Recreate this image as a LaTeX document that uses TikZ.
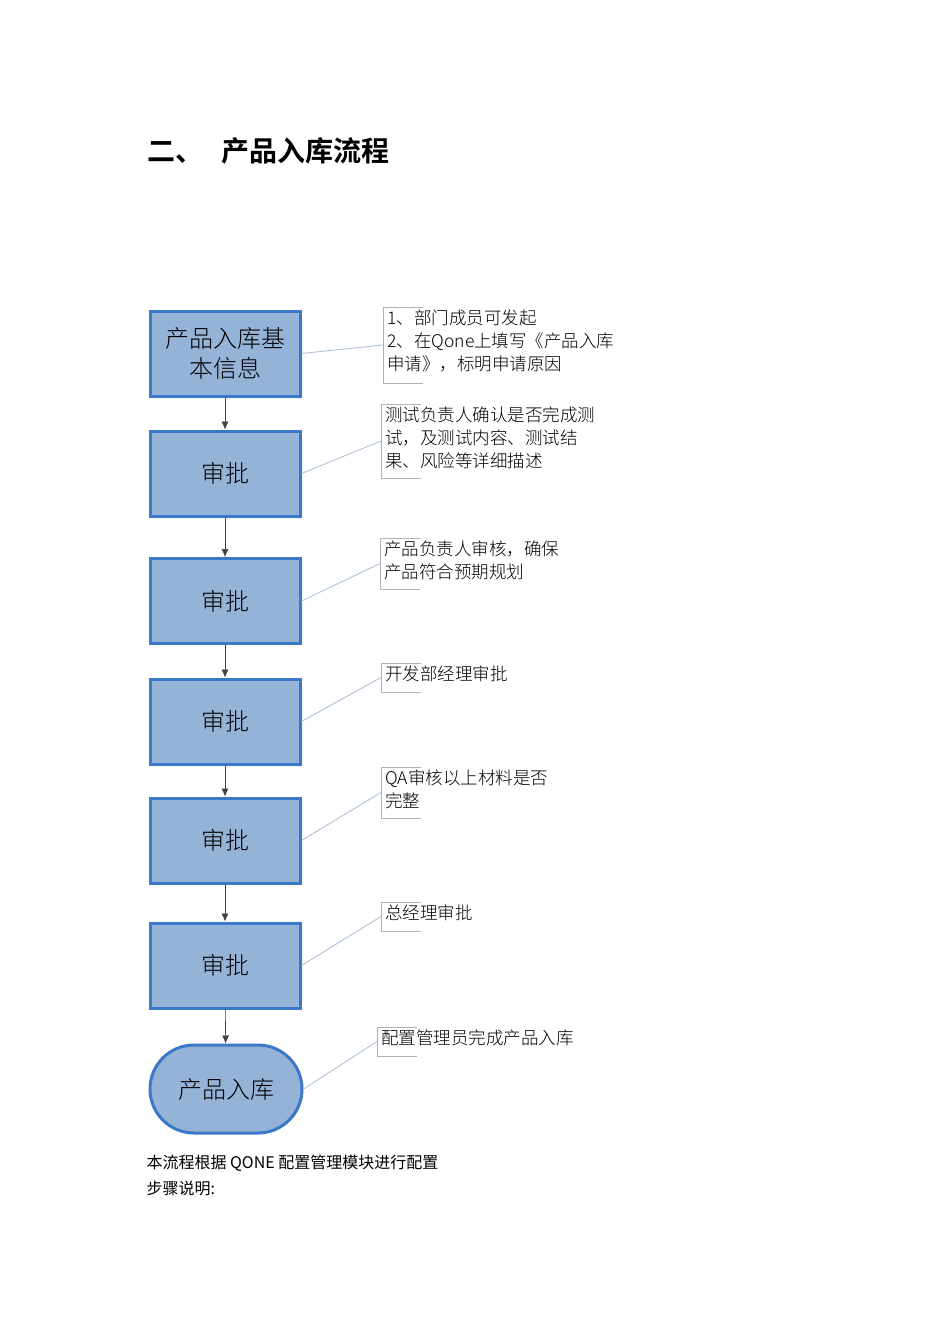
\documentclass[tikz,border=0pt]{standalone}
\usepackage{fontspec}
\setmainfont{Noto Sans CJK SC}
\newfontfamily\cjklight{Noto Sans CJK SC Light}
\newfontfamily\cjkbold{Noto Sans CJK SC Bold}
\usetikzlibrary{arrows.meta,shapes.misc}
\definecolor{boxfill}{HTML}{95B3D7}
\definecolor{boxline}{HTML}{3C78C8}
\definecolor{lnk}{HTML}{A9BCD6}
\tikzset{
 stepbox/.style={draw=boxline,line width=3pt,fill=boxfill,minimum width=150pt,minimum height=85pt,font=\cjklight\fontsize{24}{30}\selectfont,align=center,inner sep=0},
 endbox/.style={stepbox,rounded rectangle},
 flow/.style={-{Latex[length=8pt,width=7pt]},line width=0.6pt,black!75},
 note/.style={anchor=north west,font=\cjklight\fontsize{17.5}{23}\selectfont,align=left,inner sep=0},
 brk/.style={draw=black!30,line width=0.8pt},
 lk/.style={draw=lnk,line width=0.8pt}
}
\begin{document}
\begin{tikzpicture}[x=1pt,y=-1pt]
\useasboundingbox[fill=white] (0,0) rectangle (950,1344);
\node[anchor=west,font=\cjkbold\fontsize{28}{32}\selectfont] (title) at (144,151) {二、\hspace{18pt}产品入库流程};
\node[stepbox] (b1) at (225,353.5) {产品入库基\\本信息};
\node[stepbox] (b2) at (225,473.5) {审批};
\node[stepbox] (b3) at (225,601) {审批};
\node[stepbox] (b4) at (225,721.5) {审批};
\node[stepbox] (b5) at (225,840.5) {审批};
\node[stepbox] (b6) at (225,965.5) {审批};
\node[endbox,minimum width=152pt,minimum height=88pt] (b7) at (226,1089) {产品入库};
\foreach \a/\b in {b1/b2,b2/b3,b3/b4,b4/b5,b5/b6,b6/b7} \draw[flow] (\a) -- (\b);
% callouts
\newcommand{\callout}[6]{% name,x,ytop,ybot,text,from
 \draw[brk] (#2+40,#3) -- (#2,#3) -- (#2,#4) -- (#2+40,#4);
 \coordinate (#1) at (#2,{(#3+#4)/2});
 \node[note] (#1t) at (#2+4,#3+3) {#5};
 \draw[lk] (#6.east) -- (#1);}
\callout{c1}{383}{307}{383}{1、部门成员可发起\\2、在Qone上填写《产品入库\\申请》，标明申请原因}{b1}
\callout{c2}{381}{404}{478}{测试负责人确认是否完成测\\试，及测试内容、测试结\\果、风险等详细描述}{b2}
\callout{c3}{380}{538}{589}{产品负责人审核，确保\\产品符合预期规划}{b3}
\callout{c4}{381}{663}{692}{开发部经理审批}{b4}
\callout{c5}{381}{767}{818}{QA审核以上材料是否\\完整}{b5}
\callout{c6}{381}{902}{931}{总经理审批}{b6}
\callout{c7}{377}{1027}{1056}{配置管理员完成产品入库}{b7}
\node[anchor=west,font=\fontsize{16}{20}\selectfont] (t1) at (143,1163) {本流程根据 QONE 配置管理模块进行配置};
\node[anchor=west,font=\fontsize{16}{20}\selectfont] (t2) at (143,1188) {步骤说明:};
\end{tikzpicture}
\end{document}
